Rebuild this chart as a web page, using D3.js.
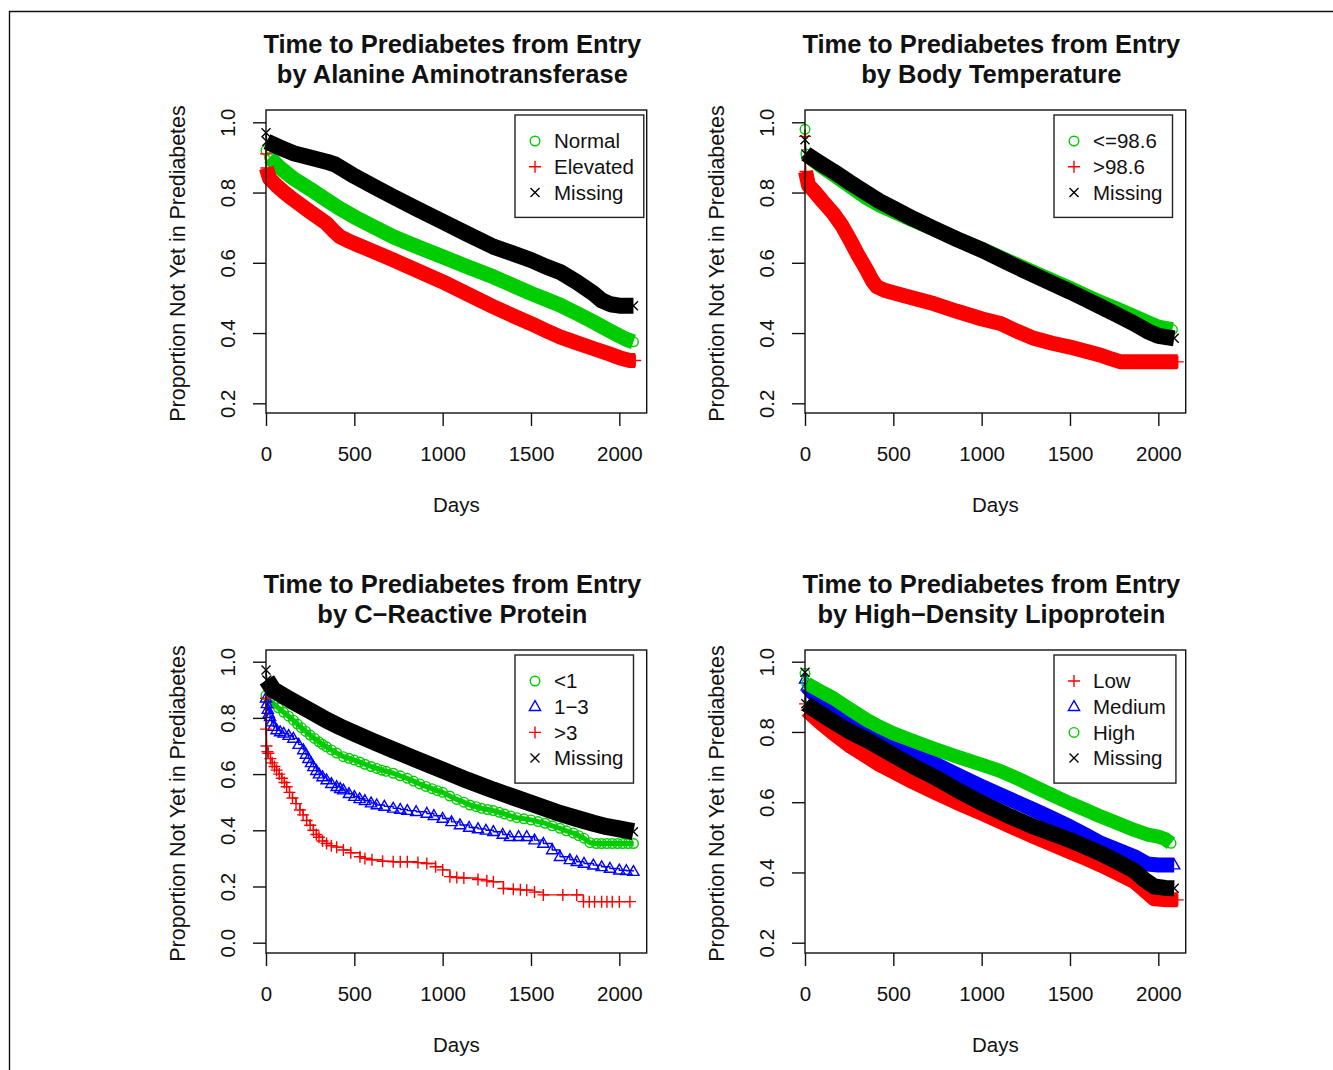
<!DOCTYPE html>
<html>
<head>
<meta charset="utf-8">
<script src="https://cdn.jsdelivr.net/npm/d3@7"></script>
<style>
  body { margin: 0; background: #fff; }
  text { font-family: "Liberation Sans", Arial, sans-serif; fill: #111; }
</style>
</head>
<body>
<div id="chart"></div>
<script>
// Kaplan-Meier style curves: [days, proportion]

// Alanine Aminotransferase
const altNormal = [[0,0.92],[20,0.9],[80,0.87],[155,0.84],[250,0.81],[343,0.779],[420,0.754],[500,0.731],[610,0.702],[720,0.674],[860,0.645],[1000,0.617],[1140,0.589],[1287,0.56],[1400,0.535],[1500,0.513],[1580,0.497],[1664,0.48],[1760,0.456],[1853,0.432],[1940,0.408],[2000,0.392],[2040,0.382],[2080,0.375]];
const altElevated = [[0,0.91],[2,0.87],[20,0.84],[60,0.82],[105,0.8],[155,0.78],[250,0.745],[343,0.712],[385,0.69],[419,0.674],[460,0.664],[500,0.655],[610,0.632],[720,0.608],[860,0.577],[1000,0.546],[1140,0.511],[1287,0.475],[1400,0.449],[1500,0.427],[1580,0.408],[1664,0.389],[1760,0.372],[1853,0.356],[1930,0.343],[2000,0.33],[2060,0.322],[2090,0.322]];
const altMissing = [[0,0.97],[5,0.945],[80,0.928],[155,0.912],[250,0.9],[343,0.888],[390,0.88],[440,0.865],[500,0.847],[610,0.817],[720,0.788],[860,0.752],[1000,0.717],[1140,0.682],[1287,0.646],[1400,0.626],[1500,0.608],[1580,0.59],[1664,0.574],[1760,0.545],[1853,0.513],[1900,0.493],[1950,0.482],[2000,0.478],[2080,0.478]];

// Body Temperature
const tempLow = [[0,0.98],[5,0.91],[80,0.88],[161,0.852],[250,0.82],[350,0.785],[420,0.765],[500,0.747],[610,0.722],[728,0.697],[860,0.668],[1003,0.638],[1150,0.605],[1296,0.572],[1400,0.549],[1500,0.527],[1590,0.506],[1675,0.487],[1770,0.467],[1864,0.447],[1940,0.43],[2000,0.417],[2080,0.41]];
const tempHigh = [[0,0.96],[3,0.86],[20,0.82],[47,0.807],[100,0.775],[161,0.74],[210,0.705],[255,0.665],[300,0.622],[350,0.579],[380,0.55],[407,0.532],[450,0.522],[500,0.515],[610,0.5],[728,0.484],[860,0.462],[1003,0.44],[1107,0.427],[1200,0.405],[1296,0.385],[1400,0.371],[1500,0.36],[1590,0.348],[1675,0.337],[1730,0.327],[1788,0.318],[1900,0.318],[2000,0.318],[2110,0.318]];
const tempMissing = [[0,0.95],[5,0.91],[80,0.885],[161,0.86],[250,0.83],[350,0.798],[420,0.776],[500,0.755],[610,0.726],[728,0.698],[860,0.667],[1003,0.636],[1150,0.6],[1296,0.565],[1400,0.541],[1500,0.518],[1590,0.496],[1675,0.475],[1770,0.451],[1864,0.427],[1940,0.405],[2000,0.392],[2090,0.385]];

// C-Reactive Protein
const crpLow = [[0,0.88],[20,0.86],[41,0.852],[70,0.836],[100,0.82],[128,0.806],[155,0.792],[178,0.778],[200,0.765],[225,0.752],[250,0.739],[275,0.727],[300,0.715],[320,0.706],[343,0.697],[370,0.686],[400,0.675],[438,0.662],[470,0.656],[500,0.65],[530,0.643],[560,0.635],[595,0.627],[627,0.62],[655,0.614],[680,0.61],[720,0.603],[760,0.594],[800,0.585],[835,0.575],[870,0.565],[905,0.556],[940,0.548],[970,0.541],[1000,0.535],[1040,0.522],[1080,0.51],[1120,0.5],[1155,0.49],[1190,0.484],[1220,0.478],[1255,0.474],[1287,0.47],[1320,0.464],[1350,0.458],[1385,0.451],[1420,0.445],[1460,0.441],[1500,0.437],[1540,0.431],[1580,0.425],[1620,0.416],[1664,0.407],[1700,0.398],[1740,0.39],[1770,0.381],[1800,0.372],[1834,0.356],[1870,0.353],[1900,0.353],[1930,0.353],[1960,0.353],[1990,0.353],[2020,0.353],[2050,0.353],[2080,0.353]];
const crpMid = [[0,0.87],[5,0.85],[10,0.83],[16,0.815],[23,0.804],[32,0.785],[41,0.769],[60,0.757],[80,0.75],[100,0.745],[128,0.737],[155,0.727],[185,0.705],[211,0.686],[226,0.67],[240,0.655],[255,0.64],[268,0.626],[285,0.612],[300,0.6],[320,0.59],[343,0.579],[370,0.566],[400,0.555],[420,0.548],[438,0.543],[470,0.53],[500,0.52],[530,0.512],[560,0.505],[595,0.497],[627,0.49],[670,0.485],[720,0.478],[760,0.474],[800,0.47],[850,0.466],[910,0.46],[950,0.452],[1000,0.442],[1050,0.43],[1098,0.419],[1150,0.41],[1200,0.405],[1245,0.4],[1287,0.395],[1340,0.385],[1381,0.377],[1430,0.377],[1476,0.377],[1520,0.365],[1570,0.353],[1620,0.33],[1664,0.306],[1720,0.295],[1759,0.288],[1800,0.282],[1853,0.276],[1900,0.27],[1947,0.264],[2000,0.258],[2040,0.256],[2080,0.253]];
const crpHigh = [[0,0.87],[1,0.76],[3,0.7],[8,0.68],[13,0.674],[25,0.655],[35,0.64],[48,0.627],[60,0.614],[75,0.6],[90,0.585],[104,0.57],[117,0.555],[133,0.535],[150,0.515],[170,0.495],[192,0.472],[210,0.455],[230,0.435],[250,0.418],[268,0.4],[285,0.385],[300,0.375],[320,0.362],[343,0.353],[370,0.345],[400,0.34],[438,0.33],[480,0.32],[532,0.306],[560,0.3],[600,0.295],[660,0.29],[720,0.288],[760,0.288],[800,0.288],[860,0.285],[910,0.282],[960,0.27],[1000,0.259],[1041,0.235],[1080,0.232],[1120,0.23],[1200,0.225],[1250,0.22],[1287,0.217],[1344,0.193],[1400,0.19],[1440,0.188],[1476,0.187],[1520,0.18],[1570,0.17],[1680,0.17],[1759,0.17],[1797,0.146],[1830,0.146],[1860,0.146],[1900,0.146],[1930,0.146],[1960,0.146],[2000,0.146],[2060,0.146]];
const crpMissing = [[0,0.97],[5,0.935],[41,0.9],[100,0.878],[155,0.858],[250,0.825],[343,0.792],[420,0.768],[500,0.745],[610,0.715],[720,0.686],[860,0.65],[1000,0.614],[1140,0.578],[1287,0.543],[1400,0.518],[1500,0.496],[1580,0.478],[1664,0.46],[1760,0.442],[1853,0.425],[1930,0.413],[2000,0.405],[2080,0.395]];

// High-Density Lipoprotein
const hdlLow = [[0,0.88],[10,0.862],[80,0.83],[161,0.796],[250,0.762],[350,0.73],[420,0.708],[500,0.687],[610,0.658],[728,0.63],[860,0.599],[1003,0.568],[1150,0.535],[1296,0.502],[1400,0.48],[1500,0.459],[1590,0.44],[1675,0.421],[1770,0.398],[1864,0.374],[1920,0.35],[1977,0.325],[2050,0.322],[2110,0.322]];
const hdlMedium = [[0,0.95],[10,0.93],[47,0.91],[100,0.892],[161,0.872],[250,0.842],[350,0.81],[420,0.79],[500,0.772],[610,0.742],[728,0.711],[860,0.678],[1003,0.644],[1150,0.611],[1296,0.578],[1400,0.554],[1500,0.53],[1590,0.506],[1675,0.483],[1770,0.464],[1864,0.445],[1939,0.424],[2000,0.421],[2090,0.421]];
const hdlHigh = [[0,0.967],[10,0.938],[80,0.918],[161,0.896],[250,0.866],[350,0.834],[420,0.815],[500,0.796],[610,0.775],[728,0.753],[860,0.73],[1003,0.706],[1100,0.69],[1201,0.668],[1296,0.645],[1400,0.62],[1500,0.597],[1590,0.578],[1675,0.559],[1770,0.54],[1864,0.521],[1940,0.508],[2000,0.502],[2040,0.495],[2072,0.483]];
const hdlMissing = [[0,0.97],[5,0.88],[80,0.855],[161,0.829],[250,0.802],[350,0.777],[420,0.757],[500,0.734],[610,0.703],[728,0.673],[860,0.635],[1003,0.597],[1150,0.562],[1296,0.53],[1400,0.511],[1500,0.492],[1590,0.473],[1675,0.454],[1770,0.43],[1864,0.405],[1920,0.38],[1977,0.36],[2040,0.356],[2090,0.355]];

const xTicks = [0, 500, 1000, 1500, 2000];

const GREEN = '#00cd00', RED = '#ff0000', BLUE = '#0000ff', BLACK = '#000000';

const panels = [
    { left: 266, top: 110, yDomain: [0.1724, 1.035], yTicks: [0.2, 0.4, 0.6, 0.8, 1.0],
      title: ['Time to Prediabetes from Entry', 'by Alanine Aminotransferase'],
      series: [
        { name: 'Normal', data: altNormal, color: GREEN, shape: 'circle', band: 15 },
        { name: 'Elevated', data: altElevated, color: RED, shape: 'plus', band: 15 },
        { name: 'Missing', data: altMissing, color: BLACK, shape: 'cross', band: 16 }
      ] },
    { left: 805, top: 110, yDomain: [0.1724, 1.035], yTicks: [0.2, 0.4, 0.6, 0.8, 1.0],
      title: ['Time to Prediabetes from Entry', 'by Body Temperature'],
      series: [
        { name: '<=98.6', data: tempLow, color: GREEN, shape: 'circle', band: 15 },
        { name: '>98.6', data: tempHigh, color: RED, shape: 'plus', band: 15 },
        { name: 'Missing', data: tempMissing, color: BLACK, shape: 'cross', band: 16 }
      ] },
    { left: 266, top: 650, yDomain: [-0.0367, 1.0416], yTicks: [0.0, 0.2, 0.4, 0.6, 0.8, 1.0],
      title: ['Time to Prediabetes from Entry', 'by C\u2212Reactive Protein'],
      series: [
        { name: '<1', data: crpLow, color: GREEN, shape: 'circle', band: 5 },
        { name: '1\u22123', data: crpMid, color: BLUE, shape: 'triangle', band: 1.4, step: true },
        { name: '>3', data: crpHigh, color: RED, shape: 'plus', band: 1.4, step: true },
        { name: 'Missing', data: crpMissing, color: BLACK, shape: 'cross', band: 17 }
      ] },
    { left: 805, top: 650, yDomain: [0.1707, 1.0333], yTicks: [0.2, 0.4, 0.6, 0.8, 1.0],
      title: ['Time to Prediabetes from Entry', 'by High\u2212Density Lipoprotein'],
      series: [
        { name: 'Low', data: hdlLow, color: RED, shape: 'plus', band: 15 },
        { name: 'Medium', data: hdlMedium, color: BLUE, shape: 'triangle', band: 15 },
        { name: 'High', data: hdlHigh, color: GREEN, shape: 'circle', band: 14 },
        { name: 'Missing', data: hdlMissing, color: BLACK, shape: 'cross', band: 16 }
      ] }
];

const boxW = 380.7, boxH = 303;

function markerPath(shape) {
    if (shape === 'circle') { const r = 4.8; return `M${r},0A${r},${r} 0 1,1 ${-r},0A${r},${r} 0 1,1 ${r},0Z`; }
    if (shape === 'triangle') return 'M0,-6L5.6,3.8L-5.6,3.8Z';
    if (shape === 'plus') return 'M-6,0H6M0,-6V6';
    return 'M-4.5,-4.5L4.5,4.5M-4.5,4.5L4.5,-4.5';
}

const svg = d3.select('#chart').append('svg')
    .attr('width', 1333)
    .attr('height', 1070);

// figure frame (top and left edges visible)
svg.append('path')
    .attr('d', 'M9.5,1070V11.5H1333')
    .attr('fill', 'none')
    .attr('stroke', '#111')
    .attr('stroke-width', 1.4);

panels.forEach(p => {
    const g = svg.append('g').attr('transform', `translate(${p.left},${p.top})`);

    const x = d3.scaleLinear().domain([0, 2155]).range([0, boxW]);
    const y = d3.scaleLinear().domain(p.yDomain).range([boxH, 0]);

    // curves
    const plot = g.append('g');
    p.series.forEach(s => {
        const line = d3.line()
            .x(d => x(d[0]))
            .y(d => y(d[1]))
            .curve(s.step ? d3.curveStepAfter : d3.curveLinear);

        // first drop at day 0 is drawn thin, the rest as a band of marks
        plot.append('path')
            .datum(s.data.slice(0, 2))
            .attr('d', line)
            .attr('fill', 'none')
            .attr('stroke', s.color)
            .attr('stroke-width', 1.4);

        plot.append('path')
            .datum(s.data.slice(1))
            .attr('d', line)
            .attr('fill', 'none')
            .attr('stroke', s.color)
            .attr('stroke-width', s.band)
            .attr('stroke-linejoin', 'round');

        plot.selectAll(null)
            .data(s.data)
            .enter().append('path')
            .attr('transform', d => `translate(${x(d[0])},${y(d[1])})`)
            .attr('d', markerPath(s.shape))
            .attr('fill', 'none')
            .attr('stroke', s.color)
            .attr('stroke-width', 1.4);
    });

    // plot box
    g.append('rect')
        .attr('width', boxW)
        .attr('height', boxH)
        .attr('fill', 'none')
        .attr('stroke', '#111')
        .attr('stroke-width', 1.4);

    // axes
    const xAxis = g.append('g')
        .attr('transform', `translate(0,${boxH})`)
        .call(d3.axisBottom(x).tickValues(xTicks).tickSize(13).tickSizeOuter(0).tickFormat(d3.format('d')));
    xAxis.select('.domain').remove();
    xAxis.selectAll('line').attr('stroke', '#111').attr('stroke-width', 1.4);
    xAxis.selectAll('text')
        .attr('y', 48).attr('dy', 0)
        .style('font-size', '20.5px')
        .style('font-family', '"Liberation Sans", Arial, sans-serif')
        .attr('fill', '#111');

    const yAxis = g.append('g')
        .call(d3.axisLeft(y).tickValues(p.yTicks).tickSize(13).tickSizeOuter(0).tickFormat(d3.format('.1f')));
    yAxis.select('.domain').remove();
    yAxis.selectAll('line').attr('stroke', '#111').attr('stroke-width', 1.4);
    yAxis.selectAll('text')
        .attr('transform', 'rotate(-90)')
        .attr('x', 0).attr('y', -31).attr('dy', 0)
        .attr('text-anchor', 'middle')
        .style('font-size', '20.5px')
        .style('font-family', '"Liberation Sans", Arial, sans-serif')
        .attr('fill', '#111');

    // axis titles
    g.append('text')
        .attr('x', boxW / 2).attr('y', boxH + 99)
        .attr('text-anchor', 'middle')
        .style('font-size', '20.5px')
        .text('Days');

    g.append('text')
        .attr('transform', `translate(-81,${boxH / 2 + 2}) rotate(-90)`)
        .attr('text-anchor', 'middle')
        .style('font-size', '21.4px')
        .text('Proportion Not Yet in Prediabetes');

    // main title
    p.title.forEach((t, i) => {
        g.append('text')
            .attr('x', boxW / 2 - 4).attr('y', -57 + i * 29.5)
            .attr('text-anchor', 'middle')
            .style('font-size', '25.5px')
            .style('font-weight', 'bold')
            .text(t);
    });

    // legend
    const leg = g.append('g').attr('transform', 'translate(249,5)');
    const rowH = 25.7;
    const frame = leg.append('rect')
        .attr('fill', '#fff')
        .attr('stroke', '#222')
        .attr('stroke-width', 1.4);
    let maxW = 0;
    p.series.forEach((s, i) => {
        const cy = 26 + i * rowH;
        leg.append('path')
            .attr('transform', `translate(20,${cy})`)
            .attr('d', markerPath(s.shape))
            .attr('fill', 'none')
            .attr('stroke', s.color)
            .attr('stroke-width', 1.4);
        const t = leg.append('text')
            .attr('x', 39).attr('y', cy + 7.3)
            .style('font-size', '20.5px')
            .text(s.name);
        maxW = Math.max(maxW, t.node().getComputedTextLength());
    });
    frame.attr('width', 39 + maxW + 10)
        .attr('height', 26 + (p.series.length - 1) * rowH + 25);
});
</script>
</body>
</html>
